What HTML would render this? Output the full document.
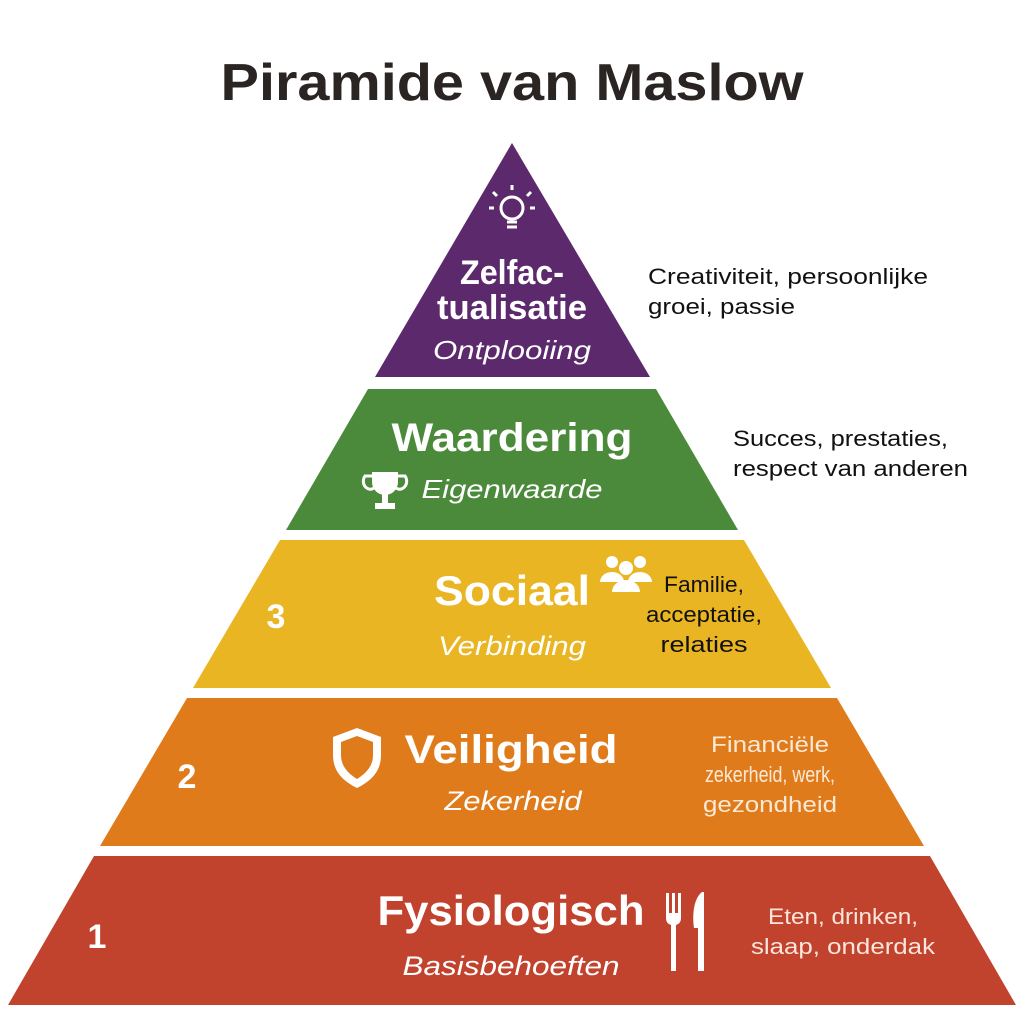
<!DOCTYPE html>
<html><head><meta charset="utf-8"><style>
html,body{margin:0;padding:0;background:#fff;}
svg{display:block;}
text{font-family:"Liberation Sans",sans-serif;}
</style></head><body>
<svg width="1024" height="1024" viewBox="0 0 1024 1024" xmlns="http://www.w3.org/2000/svg">
<rect width="1024" height="1024" fill="#fff"/>
<text x="512" y="100" text-anchor="middle" font-size="52" font-weight="bold" fill="#2a2522" textLength="583" lengthAdjust="spacingAndGlyphs">Piramide van Maslow</text>

<polygon points="512,143 650,377 375,377" fill="#5c2a6c"/>
<polygon points="368,389 656,389 738,530 286,530" fill="#4b8a3b"/>
<polygon points="280,540 744,540 831,688 193,688" fill="#e9b523"/>
<polygon points="187,698 837,698 924,846 100,846" fill="#e07b1b"/>
<polygon points="94,856 930,856 1016,1005 8,1005" fill="#c1432e"/>

<!-- bulb -->
<g fill="none" stroke="#fff" stroke-width="3">
<circle cx="512" cy="208" r="11"/>
<line x1="507" y1="222" x2="517" y2="222"/><line x1="507" y1="227" x2="517" y2="227"/>
<line x1="512" y1="190" x2="512" y2="185"/><line x1="497" y1="196" x2="493" y2="192"/><line x1="527" y1="196" x2="531" y2="192"/>
<line x1="494" y1="208" x2="489" y2="208"/><line x1="530" y1="208" x2="535" y2="208"/>
</g>
<g fill="#fff" font-weight="bold" text-anchor="middle">
<text x="512" y="284" font-size="34" textLength="104" lengthAdjust="spacingAndGlyphs">Zelfac-</text>
<text x="512" y="319" font-size="34" textLength="150" lengthAdjust="spacingAndGlyphs">tualisatie</text>
</g>
<text x="512" y="359" text-anchor="middle" font-size="26" font-style="italic" fill="#fff" textLength="158" lengthAdjust="spacingAndGlyphs">Ontplooiing</text>
<g font-size="22" fill="#111">
<text x="648" y="284" textLength="280" lengthAdjust="spacingAndGlyphs">Creativiteit, persoonlijke</text>
<text x="648" y="314" textLength="147" lengthAdjust="spacingAndGlyphs">groei, passie</text>
<text x="733" y="446" textLength="215" lengthAdjust="spacingAndGlyphs">Succes, prestaties,</text>
<text x="733" y="476" textLength="235" lengthAdjust="spacingAndGlyphs">respect van anderen</text>
</g>

<text x="512" y="451" text-anchor="middle" font-size="40" font-weight="bold" fill="#fff" textLength="241" lengthAdjust="spacingAndGlyphs">Waardering</text>
<text x="512" y="498" text-anchor="middle" font-size="26" font-style="italic" fill="#fff" textLength="181" lengthAdjust="spacingAndGlyphs">Eigenwaarde</text>
<!-- trophy -->
<g fill="#fff">
<path d="M372,472 h26 v10 a13,13 0 0 1 -26,0 z"/>
<rect x="382" y="494" width="6" height="10"/>
<rect x="375" y="503" width="20" height="6"/>
</g>
<g fill="none" stroke="#fff" stroke-width="3"><path d="M372,476 h-7 a7,8 0 0 0 9,12"/><path d="M398,476 h7 a7,8 0 0 1 -9,12"/></g>

<text x="276" y="628" text-anchor="middle" font-size="34" font-weight="bold" fill="#fff">3</text>
<text x="512" y="605" text-anchor="middle" font-size="42" font-weight="bold" fill="#fff" textLength="156" lengthAdjust="spacingAndGlyphs">Sociaal</text>
<text x="512" y="655" text-anchor="middle" font-size="27" font-style="italic" fill="#fff" textLength="148" lengthAdjust="spacingAndGlyphs">Verbinding</text>
<!-- people -->
<g fill="#fff">
<circle cx="612" cy="562" r="6"/><circle cx="640" cy="562" r="6"/><circle cx="626" cy="568" r="7"/>
<path d="M600,582 a12,10 0 0 1 24,0 z"/><path d="M628,582 a12,10 0 0 1 24,0 z"/>
<path d="M612,592 a14,12 0 0 1 28,0 z"/>
</g>
<g font-size="22" fill="#111" text-anchor="middle">
<text x="704" y="592" textLength="80" lengthAdjust="spacingAndGlyphs">Familie,</text>
<text x="704" y="622" textLength="116" lengthAdjust="spacingAndGlyphs">acceptatie,</text>
<text x="704" y="652" textLength="87" lengthAdjust="spacingAndGlyphs">relaties</text>
</g>

<text x="187" y="788" text-anchor="middle" font-size="34" font-weight="bold" fill="#fff">2</text>
<path d="M357,728 l-24,9 v18 c0,18 12,27 24,33 c12,-6 24,-15 24,-33 v-18 z" fill="#fff"/>
<path d="M357,736 l-16,6 v13 c0,12 8,19 16,24 c8,-5 16,-12 16,-24 v-13 z" fill="#e07b1b"/>
<text x="511" y="763" text-anchor="middle" font-size="40" font-weight="bold" fill="#fff" textLength="213" lengthAdjust="spacingAndGlyphs">Veiligheid</text>
<text x="513" y="810" text-anchor="middle" font-size="27" font-style="italic" fill="#fff" textLength="137" lengthAdjust="spacingAndGlyphs">Zekerheid</text>
<g font-size="22" fill="#fbe9d6" text-anchor="middle">
<text x="770" y="752" textLength="118" lengthAdjust="spacingAndGlyphs">Financiële</text>
<text x="770" y="782" textLength="130" lengthAdjust="spacingAndGlyphs">zekerheid, werk,</text>
<text x="770" y="812" textLength="134" lengthAdjust="spacingAndGlyphs">gezondheid</text>
</g>

<text x="97" y="948" text-anchor="middle" font-size="34" font-weight="bold" fill="#fff">1</text>
<text x="511" y="925" text-anchor="middle" font-size="42" font-weight="bold" fill="#fff" textLength="267" lengthAdjust="spacingAndGlyphs">Fysiologisch</text>
<text x="511" y="975" text-anchor="middle" font-size="27" font-style="italic" fill="#fff" textLength="217" lengthAdjust="spacingAndGlyphs">Basisbehoeften</text>
<!-- fork & knife -->
<g fill="#fff">
<rect x="666" y="893" width="3" height="22"/><rect x="672" y="893" width="3" height="22"/><rect x="678" y="893" width="3" height="22"/>
<path d="M666,913 h15 v6 a7,7 0 0 1 -5,6 v46 h-5 v-46 a7,7 0 0 1 -5,-6 z"/>
<path d="M702,892 c-8,6 -10,22 -8,36 h4 v43 h6 v-79 z"/>
</g>
<g font-size="22" fill="#fbe6dc" text-anchor="middle">
<text x="843" y="924" textLength="150" lengthAdjust="spacingAndGlyphs">Eten, drinken,</text>
<text x="843" y="954" textLength="184" lengthAdjust="spacingAndGlyphs">slaap, onderdak</text>
</g>
</svg>
</body></html>
